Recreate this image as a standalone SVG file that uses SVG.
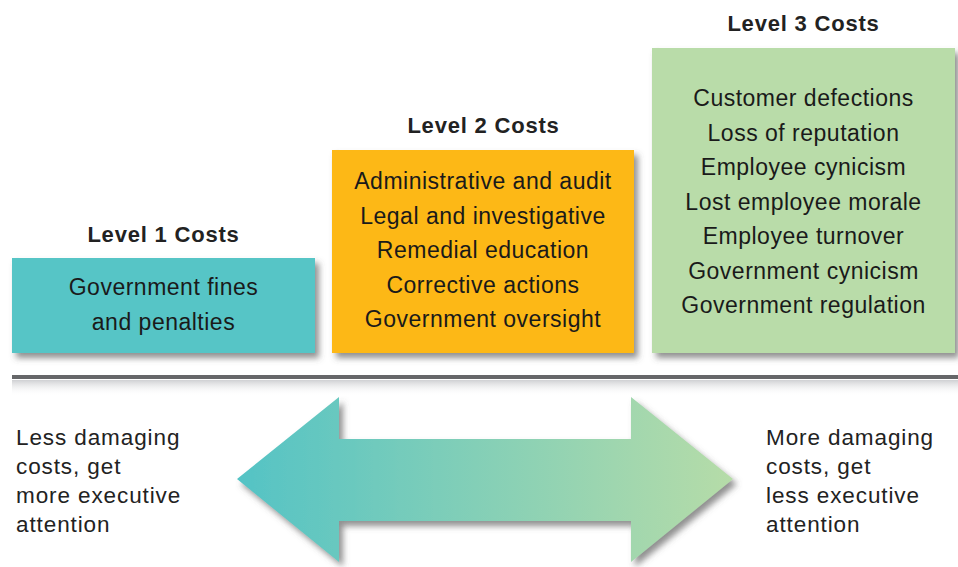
<svg xmlns="http://www.w3.org/2000/svg" width="958" height="567" viewBox="0 0 958 567">
  <style>
    .title { font-family: "Liberation Sans", Arial, sans-serif; font-size: 22px; font-weight: bold; fill: #222; text-anchor: middle; letter-spacing: 0.8px; }
    .item { font-family: "Liberation Sans", Arial, sans-serif; font-size: 23px; fill: #1a1a1a; text-anchor: middle; letter-spacing: 0.5px; }
    .side { font-family: "Liberation Sans", Arial, sans-serif; font-size: 22.5px; fill: #222; letter-spacing: 0.9px; }
  </style>
  <defs>
    <filter id="shadow" x="-10%" y="-10%" width="125%" height="130%">
      <feGaussianBlur in="SourceAlpha" stdDeviation="3"/>
      <feOffset dx="4" dy="5" result="b"/>
      <feFlood flood-color="#555" flood-opacity="0.65"/>
      <feComposite in2="b" operator="in"/>
      <feMerge><feMergeNode/><feMergeNode in="SourceGraphic"/></feMerge>
    </filter>
    <linearGradient id="arrowFill" x1="0" y1="0" x2="1" y2="0">
      <stop offset="0" stop-color="#54c3c5"/>
      <stop offset="1" stop-color="#b6dca8"/>
    </linearGradient>
    <linearGradient id="lineShade" x1="0" y1="0" x2="0" y2="1">
      <stop offset="0" stop-color="#cfd0d3"/>
      <stop offset="1" stop-color="#ffffff" stop-opacity="0"/>
    </linearGradient>
  </defs>

  <rect width="958" height="567" fill="#ffffff"/>

  <!-- level 1 -->
  <g id="level1">
    <text class="title" x="163.5" y="242">Level 1 Costs</text>
    <rect x="12" y="258" width="303" height="95" fill="#56c5c6" filter="url(#shadow)"/>
    <text class="item" x="163.5" y="295">Government fines</text>
    <text class="item" x="163.5" y="330">and penalties</text>
  </g>

  <!-- level 2 -->
  <g id="level2">
    <text class="title" x="483.5" y="133">Level 2 Costs</text>
    <rect x="332" y="150" width="302" height="203" fill="#fdb813" filter="url(#shadow)"/>
    <text class="item" x="483" y="189">Administrative and audit</text>
    <text class="item" x="483" y="223.5">Legal and investigative</text>
    <text class="item" x="483" y="258">Remedial education</text>
    <text class="item" x="483" y="292.5">Corrective actions</text>
    <text class="item" x="483" y="327">Government oversight</text>
  </g>

  <!-- level 3 -->
  <g id="level3">
    <text class="title" x="803.5" y="31">Level 3 Costs</text>
    <rect x="652" y="48" width="303" height="305" fill="#b9dca9" filter="url(#shadow)"/>
    <text class="item" x="803.5" y="106">Customer defections</text>
    <text class="item" x="803.5" y="140.5">Loss of reputation</text>
    <text class="item" x="803.5" y="175">Employee cynicism</text>
    <text class="item" x="803.5" y="209.5">Lost employee morale</text>
    <text class="item" x="803.5" y="244">Employee turnover</text>
    <text class="item" x="803.5" y="278.5">Government cynicism</text>
    <text class="item" x="803.5" y="313">Government regulation</text>
  </g>

  <!-- divider rule -->
  <g id="divider">
    <rect x="12" y="380" width="946" height="16" fill="url(#lineShade)"/>
    <rect x="12" y="375" width="946" height="4" fill="#666769"/>
  </g>

  <!-- double-headed scale arrow -->
  <g id="connectors">
    <polygon points="237,479 339,397 339,439 631,439 631,397 733,479 631,562 631,521 339,521 339,562" fill="url(#arrowFill)" filter="url(#shadow)"/>
  </g>

  <g id="left-note">
    <text class="side" x="16" y="445">Less damaging</text>
    <text class="side" x="16" y="474">costs, get</text>
    <text class="side" x="16" y="503">more executive</text>
    <text class="side" x="16" y="532">attention</text>
  </g>
  <g id="right-note">
    <text class="side" x="766" y="445">More damaging</text>
    <text class="side" x="766" y="474">costs, get</text>
    <text class="side" x="766" y="503">less executive</text>
    <text class="side" x="766" y="532">attention</text>
  </g>
</svg>
